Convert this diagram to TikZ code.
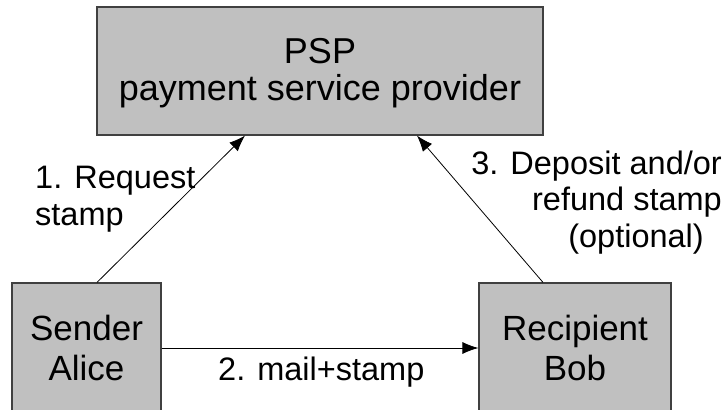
\documentclass[tikz,border=0pt]{standalone}
\usepackage{fontspec}
\setmainfont{Liberation Sans}
\usetikzlibrary{arrows.meta,calc}
\definecolor{boxfill}{HTML}{C0C0C0}
\definecolor{boxline}{HTML}{404040}
\newcommand{\boxfontA}{\fontsize{36}{37}\selectfont}
\newcommand{\boxfontB}{\fontsize{35}{40}\selectfont}
\newcommand{\lblfont}{\fontsize{32.5}{36.5}\selectfont}
\begin{document}
\begin{tikzpicture}[x=1pt,y=-1pt,
  box/.style={draw=boxline, fill=boxfill, line width=1.2pt, inner sep=0pt, align=center},
  conn/.style={line width=0.8pt, -{Latex[length=16pt,width=12pt]}},
  lbl/.style={inner sep=0pt, font=\lblfont}]
\useasboundingbox[fill=white] (0,0) rectangle (724,410);
\node[box, minimum width=446pt, minimum height=128pt] (psp) at (320,71) {};
\node[inner sep=0pt, align=center, font=\boxfontA, anchor=base] (psptext) at (320,100) {PSP\\payment service provider};
\node[box, minimum width=149pt, minimum height=130pt, font=\boxfontB] (sender) at (86.5,348) {Sender\\Alice};
\node[box, minimum width=192pt, minimum height=130pt, font=\boxfontB] (recip) at (575,348) {Recipient\\Bob};
\draw[conn] ([xshift=10.5pt]sender.north) -- ([xshift=-75pt]psp.south);
\draw[conn] ([xshift=-32pt]recip.north) -- ([xshift=97pt]psp.south);
\draw[conn] (sender.east) -- (recip.west);
\node[lbl, anchor=base west, align=left] (l1) at (35,225) {1. Request\\stamp};
\node[lbl, anchor=base west] (l2) at (218,380) {2. mail+stamp};
\node[lbl, anchor=base east, align=right] (l3) at (722,247) {3. Deposit and/or\\refund stamp\\(optional)\hspace*{18pt}};
\end{tikzpicture}
\end{document}
